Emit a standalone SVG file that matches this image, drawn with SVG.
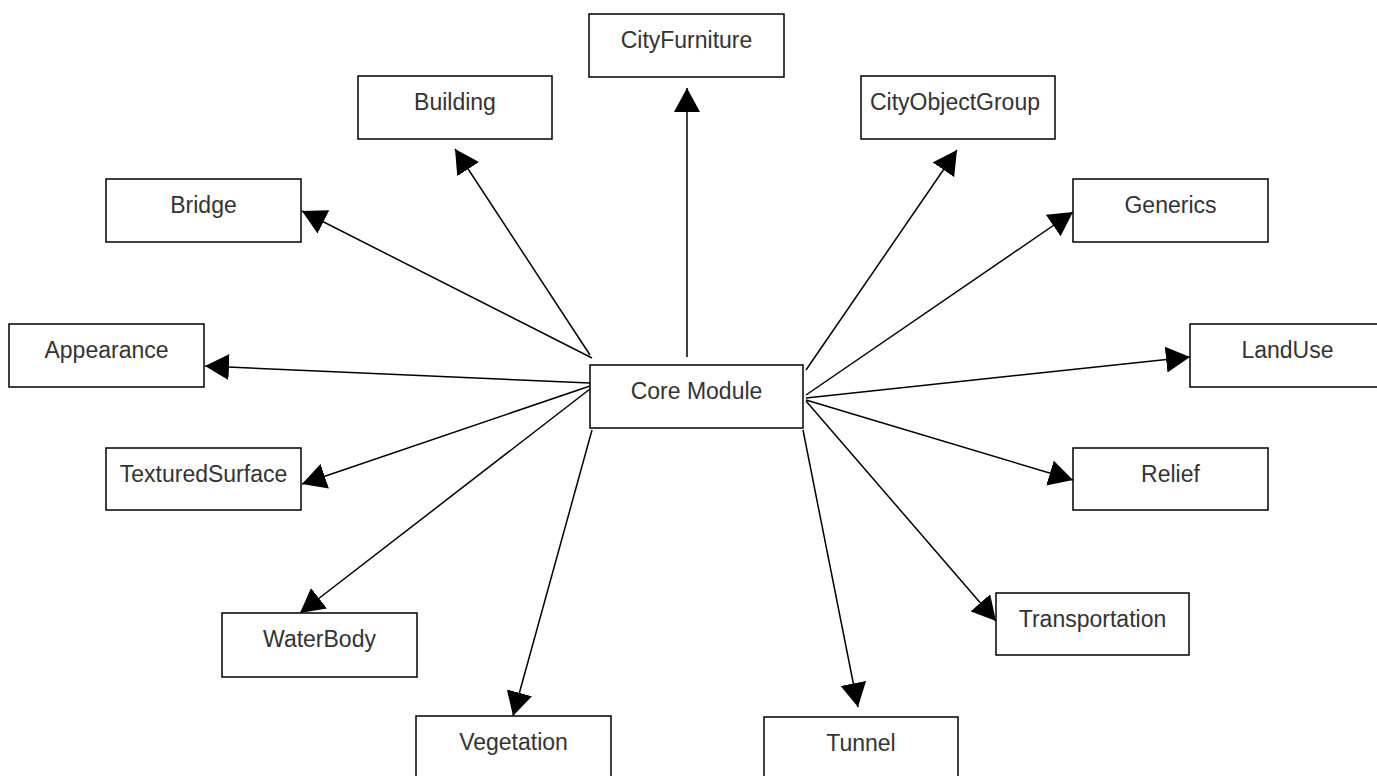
<svg xmlns="http://www.w3.org/2000/svg" width="1377" height="776" viewBox="0 0 1377 776">
<style>
.box{fill:#fff;stroke:#000;stroke-width:1.5}
.lbl{font-family:"Liberation Sans",Arial,sans-serif;font-size:23px;fill:#333;text-anchor:middle}
.edge{stroke:#000;stroke-width:1.5;fill:none;marker-end:url(#arr)}
</style>
<defs>
<marker id="arr" viewBox="0 -13 24 26" refX="24" refY="0" markerWidth="24" markerHeight="26" markerUnits="userSpaceOnUse" orient="auto">
<path d="M0,-13 L24,0 L0,13 Z" fill="#000"/>
</marker>
</defs>
<rect width="1377" height="776" fill="#fff"/>
<g id="edges">
<line class="edge" x1="687" y1="357" x2="687" y2="88"/>
<line class="edge" x1="590" y1="355" x2="455" y2="149"/>
<line class="edge" x1="592" y1="358" x2="302" y2="211"/>
<line class="edge" x1="590" y1="383" x2="205" y2="366"/>
<line class="edge" x1="590" y1="386" x2="302" y2="484"/>
<line class="edge" x1="590" y1="389" x2="300" y2="613"/>
<line class="edge" x1="592" y1="430" x2="513" y2="716"/>
<line class="edge" x1="806" y1="370" x2="957" y2="150"/>
<line class="edge" x1="806" y1="395" x2="1073" y2="212"/>
<line class="edge" x1="806" y1="398" x2="1190" y2="357"/>
<line class="edge" x1="806" y1="400" x2="1073" y2="480"/>
<line class="edge" x1="806" y1="401" x2="996" y2="621"/>
<line class="edge" x1="803" y1="430" x2="858" y2="707"/>
</g>
<g id="core"><rect class="box" x="590" y="365" width="213" height="63"/><text class="lbl" x="696.5" y="399">Core Module</text></g>
<g id="cityfurniture"><rect class="box" x="589" y="14" width="195" height="63"/><text class="lbl" x="686.5" y="48">CityFurniture</text></g>
<g id="building"><rect class="box" x="358" y="76" width="194" height="63"/><text class="lbl" x="455" y="110">Building</text></g>
<g id="bridge"><rect class="box" x="106" y="179" width="195" height="63"/><text class="lbl" x="203.5" y="213">Bridge</text></g>
<g id="appearance"><rect class="box" x="9" y="324" width="195" height="63"/><text class="lbl" x="106.5" y="358">Appearance</text></g>
<g id="texturedsurface"><rect class="box" x="106" y="448" width="195" height="62"/><text class="lbl" x="203.5" y="482">TexturedSurface</text></g>
<g id="waterbody"><rect class="box" x="222" y="613" width="195" height="64"/><text class="lbl" x="319.5" y="647">WaterBody</text></g>
<g id="vegetation"><rect class="box" x="416" y="716" width="195" height="63"/><text class="lbl" x="513.5" y="750">Vegetation</text></g>
<g id="tunnel"><rect class="box" x="764" y="717" width="194" height="63"/><text class="lbl" x="861" y="751">Tunnel</text></g>
<g id="transportation"><rect class="box" x="996" y="593" width="193" height="62"/><text class="lbl" x="1092.5" y="627">Transportation</text></g>
<g id="relief"><rect class="box" x="1073" y="448" width="195" height="62"/><text class="lbl" x="1170.5" y="482">Relief</text></g>
<g id="landuse"><rect class="box" x="1190" y="324" width="195" height="63"/><text class="lbl" x="1287.5" y="358">LandUse</text></g>
<g id="generics"><rect class="box" x="1073" y="179" width="195" height="63"/><text class="lbl" x="1170.5" y="213">Generics</text></g>
<g id="cityobjectgroup"><rect class="box" x="861" y="76" width="194" height="63"/><text class="lbl" x="955" y="110">CityObjectGroup</text></g>
</svg>
